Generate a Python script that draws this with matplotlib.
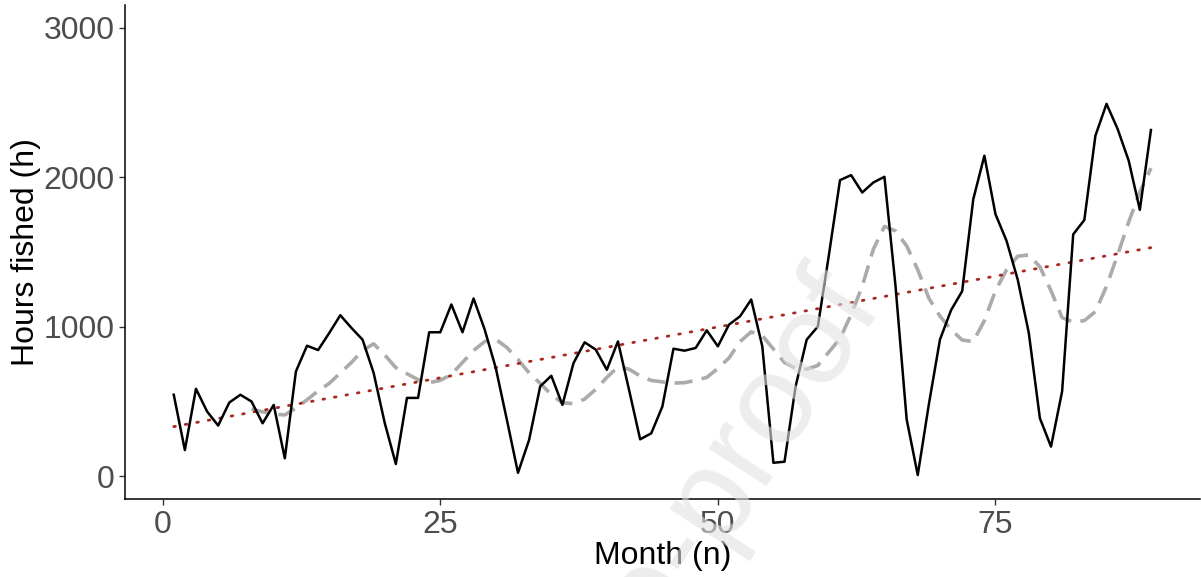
import numpy as np
import matplotlib.pyplot as plt

plt.rcParams['font.family'] = ['Liberation Sans', 'DejaVu Sans']

# Monthly fishing effort (hours), months 1..89
months = np.arange(1, 90)
hours = [544, 174, 584, 432, 338, 492, 544, 499, 353, 476,
         119, 700, 872, 843, 957, 1076, 991, 913, 690, 355,
         81, 523, 523, 962, 962, 1148, 962, 1188, 980, 723,
         376, 22, 242, 600, 671, 476, 756, 895, 846, 711,
         901, 577, 246, 286, 465, 852, 839, 857, 975, 868,
         1013, 1069, 1181, 868, 89, 96, 600, 913, 1000, 1480,
         1980, 2013, 1897, 1964, 2002, 1270, 380, 7, 480, 913,
         1110, 1237, 1852, 2143, 1752, 1573, 1315, 958, 387, 197,
         566, 1617, 1713, 2277, 2490, 2322, 2109, 1781, 2315]

# Seasonal model fit (starts later because of the lag terms)
fit_months = np.arange(8, 90)
fit_hours = [448, 430, 415, 409, 455, 510, 570, 620, 690, 760,
             840, 885, 810, 725, 685, 645, 625, 640, 680, 760,
             840, 900, 915, 860, 780, 690, 620, 545, 490, 485,
             515, 580, 660, 730, 715, 670, 640, 630, 622, 625,
             640, 660, 720, 790, 900, 965, 940, 850, 760, 720,
             715, 740, 830, 920, 1080, 1270, 1517, 1670, 1640, 1540,
             1380, 1190, 1070, 980, 910, 900, 1040, 1240, 1380, 1470,
             1480, 1400, 1240, 1060, 1030, 1040, 1100, 1270, 1480, 1700,
             1900, 2060]

# Linear trend end points
trend_months = [1, 89]
trend_hours = [331, 1528]

fig = plt.figure(figsize=(12.01, 5.77), dpi=100)
ax = fig.add_axes([0.104, 0.135, 0.895, 0.856])

ax.plot(fit_months, fit_hours, color='#ababab', linewidth=2.6,
        linestyle=(0, (5, 2.6)), zorder=2)
ax.plot(trend_months, trend_hours, color='#a8281f', linewidth=2.0,
        linestyle=(0, (0.6, 3.6)), dash_capstyle='round', zorder=3)
ax.plot(months, hours, color='black', linewidth=1.8, zorder=4)

ax.set_xlim(-3.4, 93.4)
ax.set_ylim(-154, 3150)
ax.set_xticks([0, 25, 50, 75])
ax.set_yticks([0, 1000, 2000, 3000])

for side in ['top', 'right']:
    ax.spines[side].set_visible(False)
for side in ['left', 'bottom']:
    ax.spines[side].set_color('black')
    ax.spines[side].set_linewidth(1.1)

ax.tick_params(axis='both', length=4.5, width=1.0, color='#333333',
               labelsize=23, labelcolor='#4d4d4d', pad=3)
ax.set_xlabel('Month (n)', fontsize=23, color='black', labelpad=1)
ax.set_ylabel('Hours fished (h)', fontsize=23, color='black', labelpad=2)

# faint diagonal stamp across the plot
fig.text(0.486, -0.225, 'Journal Pre-proof', fontsize=93, color='#e2e2e2',
         alpha=0.6, rotation=57, rotation_mode='anchor',
         ha='center', va='center', zorder=10)

plt.savefig('out.png', dpi=100)
plt.close()
